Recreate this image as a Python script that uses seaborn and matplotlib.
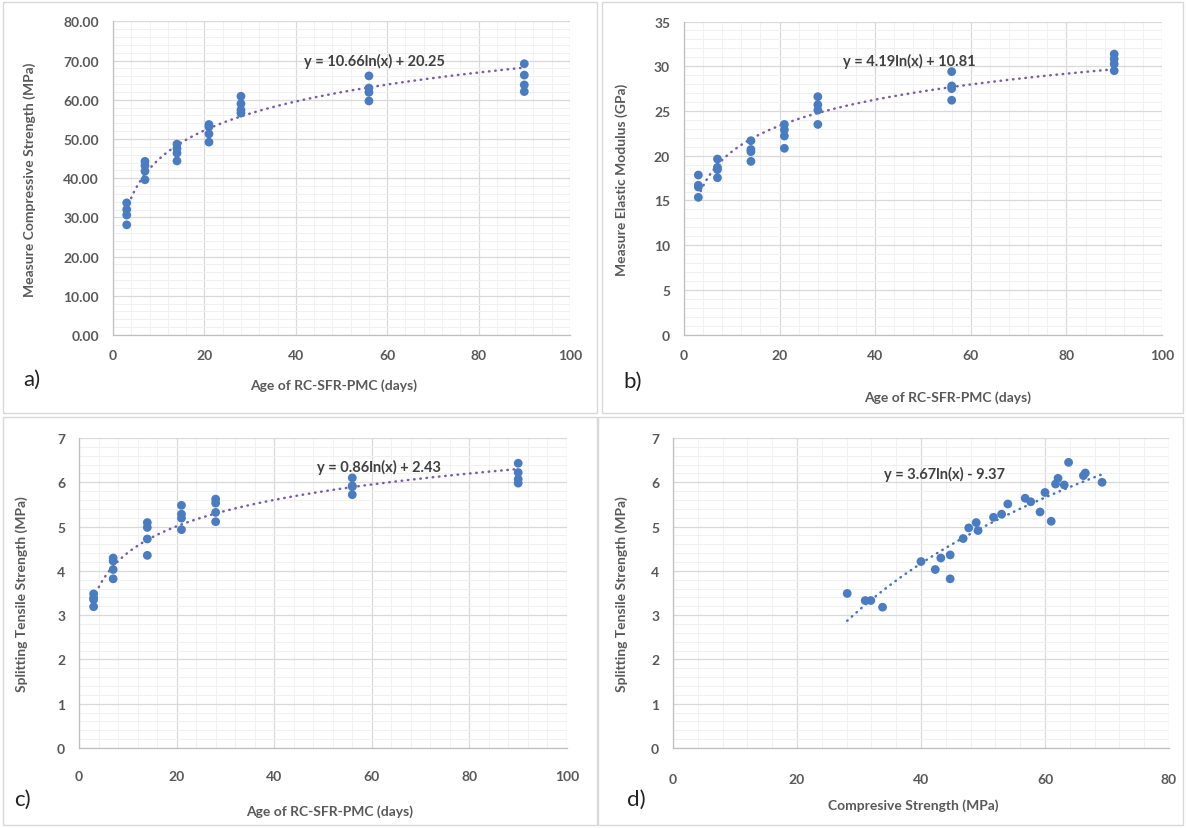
import numpy as np
import pandas as pd
import matplotlib
matplotlib.use("Agg")
import matplotlib.pyplot as plt
from matplotlib.patches import Rectangle
from matplotlib.ticker import MultipleLocator, FormatStrFormatter
import seaborn as sns

# ---- data -------------------------------------------------------------
ages = [3, 7, 14, 21, 28, 56, 90]          # curing age (days)
specimens_per_age = 4

compressive = [33.7, 32.0, 30.6, 28.1,
               44.3, 43.2, 41.8, 39.6,
               48.7, 47.6, 46.4, 44.4,
               53.7, 53.1, 51.3, 49.2,
               60.9, 59.0, 57.4, 56.6,
               66.1, 63.0, 61.9, 59.7,
               69.2, 66.3, 63.8, 62.1]

elastic = [17.84, 16.7, 16.5, 15.35,
           19.63, 18.7, 18.45, 17.54,
           21.68, 20.7, 20.45, 19.37,
           23.5, 22.9, 22.2, 20.83,
           26.6, 25.7, 25.1, 23.5,
           29.4, 27.8, 27.5, 26.2,
           31.36, 30.8, 30.25, 29.5]

tensile = [3.48, 3.39, 3.35, 3.19,
           4.29, 4.22, 4.03, 3.82,
           5.09, 4.98, 4.72, 4.35,
           5.48, 5.28, 5.19, 4.93,
           5.62, 5.53, 5.32, 5.11,
           6.10, 5.92, 5.90, 5.72,
           6.43, 6.22, 6.07, 5.98]

pair_compressive = [28.1, 31.0, 31.9, 33.8, 40.0, 42.3, 43.2, 44.7, 44.7, 46.8,
                    47.7, 48.9, 49.2, 51.7, 53.0, 54.0, 56.8, 57.7, 59.2, 60.0,
                    61.0, 61.7, 62.1, 63.1, 63.8, 66.2, 66.5, 69.2]
pair_tensile = [3.49, 3.33, 3.33, 3.18, 4.21, 4.03, 4.29, 4.36, 3.82, 4.73,
                4.97, 5.09, 4.91, 5.21, 5.28, 5.51, 5.64, 5.56, 5.33, 5.77,
                5.12, 5.96, 6.09, 5.94, 6.45, 6.15, 6.21, 6.00]

# logarithmic trend lines y = a*ln(x) + b
fit_comp = (10.66, 20.25)
fit_elastic = (4.19, 10.81)
fit_tensile = (0.86, 2.43)
fit_pair = (3.67, -9.37)

age_col = np.repeat(ages, specimens_per_age)
df_age = pd.DataFrame({"age": age_col, "comp": compressive,
                       "elastic": elastic, "tensile": tensile})
df_pair = pd.DataFrame({"comp": pair_compressive, "tensile": pair_tensile})

# ---- style ------------------------------------------------------------
sns.set_theme(style="white")
plt.rcParams["font.family"] = ["Lato", "DejaVu Sans"]

W, H = 1186, 829
fig = plt.figure(figsize=(W / 100, H / 100), dpi=100)
fig.patch.set_facecolor("white")

DOT = "#4A7CC2"
TREND_PURPLE = "#7A5CA6"
TREND_BLUE = "#4472C4"
TXT = "#595959"
EQ = "#404040"


def px_axes(l, t, r, b):
    return fig.add_axes([l / W, 1 - b / H, (r - l) / W, (b - t) / H])


def style(ax, xmax, xmaj, ymax, ymaj, yfmt=None):
    ax.set_xlim(0, xmax)
    ax.set_ylim(0, ymax)
    ax.xaxis.set_major_locator(MultipleLocator(xmaj))
    ax.xaxis.set_minor_locator(MultipleLocator(xmaj / 5))
    ax.yaxis.set_major_locator(MultipleLocator(ymaj))
    ax.yaxis.set_minor_locator(MultipleLocator(ymaj / 5))
    if yfmt:
        ax.yaxis.set_major_formatter(FormatStrFormatter(yfmt))
    ax.grid(True, which="major", color="#D9D9D9", lw=0.9, zorder=0)
    ax.grid(True, which="minor", color="#F0F0F0", lw=0.7, zorder=0)
    ax.set_axisbelow(True)
    for s in ("top", "right"):
        ax.spines[s].set_visible(False)
    for s in ("left", "bottom"):
        ax.spines[s].set_color("#BFBFBF")
        ax.spines[s].set_linewidth(0.9)
    ax.tick_params(which="major", direction="out", length=4, width=0.8,
                   color="#BFBFBF", labelsize=10, labelcolor=TXT, pad=6)
    ax.tick_params(which="minor", length=0)
    for lab in ax.get_xticklabels() + ax.get_yticklabels():
        lab.set_fontweight("bold")
    ax.set_facecolor("white")


def trend(ax, coef, x0, x1, color):
    xs = np.linspace(x0, x1, 200)
    ys = coef[0] * np.log(xs) + coef[1]
    sns.lineplot(x=xs, y=ys, ax=ax, color=color, lw=1.8,
                 linestyle=(0, (0.2, 2.3)), dash_capstyle="round", zorder=2)


def dots(ax, data, x, y):
    sns.scatterplot(data=data, x=x, y=y, ax=ax, color=DOT, s=40,
                    edgecolor="none", zorder=3, legend=False)


# chart frames
for (l, t, r, b) in [(3, 3, 597, 414), (602, 3, 1183, 414),
                     (3, 418, 597, 826), (598, 418, 1183, 826)]:
    fig.patches.append(Rectangle((l / W, 1 - b / H), (r - l) / W, (b - t) / H,
                                 transform=fig.transFigure, fill=False,
                                 edgecolor="#D9D9D9", lw=1.0))

# a) compressive strength vs age
ax_a = px_axes(113, 22.4, 570, 336)
style(ax_a, 100, 20, 80, 10, "%.2f")
trend(ax_a, fit_comp, 3, 90, TREND_PURPLE)
dots(ax_a, df_age, "age", "comp")
ax_a.set_xlabel("")
ax_a.set_ylabel("")
fig.text(374 / W, 1 - 61 / H, "y = 10.66ln(x) + 20.25", ha="center",
         va="center", fontsize=10.5, fontweight="bold", color=EQ)
fig.text(334 / W, 1 - 386 / H, "Age of RC-SFR-PMC (days)", ha="center",
         va="center", fontsize=10, fontweight="bold", color=TXT)
fig.text(30 / W, 1 - 180 / H, "Measure Compressive Strength (MPa)", rotation=90,
         ha="center", va="center", fontsize=10, fontweight="bold", color=TXT)
fig.text(32 / W, 1 - 380 / H, "a)", ha="center", va="center", fontsize=16,
         color="#222222")

# b) elastic modulus vs age
ax_b = px_axes(684, 22.5, 1162, 335.7)
style(ax_b, 100, 20, 35, 5)
trend(ax_b, fit_elastic, 3, 90, TREND_PURPLE)
dots(ax_b, df_age, "age", "elastic")
ax_b.set_xlabel("")
ax_b.set_ylabel("")
fig.text(909 / W, 1 - 61 / H, "y = 4.19ln(x) + 10.81", ha="center", va="center",
         fontsize=10.5, fontweight="bold", color=EQ)
fig.text(948 / W, 1 - 398 / H, "Age of RC-SFR-PMC (days)", ha="center",
         va="center", fontsize=10, fontweight="bold", color=TXT)
fig.text(622 / W, 1 - 180 / H, "Measure Elastic Modulus (GPa)", rotation=90,
         ha="center", va="center", fontsize=10, fontweight="bold", color=TXT)
fig.text(633 / W, 1 - 382 / H, "b)", ha="center", va="center", fontsize=16,
         color="#222222")

# c) splitting tensile strength vs age
ax_c = px_axes(79, 439, 567, 749)
style(ax_c, 100, 20, 7, 1)
trend(ax_c, fit_tensile, 3, 90, TREND_PURPLE)
dots(ax_c, df_age, "age", "tensile")
ax_c.set_xlabel("")
ax_c.set_ylabel("")
ax_c.tick_params(axis="x", pad=12)
fig.text(379 / W, 1 - 467 / H, "y = 0.86ln(x) + 2.43", ha="center", va="center",
         fontsize=10.5, fontweight="bold", color=EQ)
fig.text(330 / W, 1 - 812 / H, "Age of RC-SFR-PMC (days)", ha="center",
         va="center", fontsize=10, fontweight="bold", color=TXT)
fig.text(22 / W, 1 - 594 / H, "Splitting Tensile Strength (MPa)", rotation=90,
         ha="center", va="center", fontsize=10, fontweight="bold", color=TXT)
fig.text(22 / W, 1 - 800 / H, "c)", ha="center", va="center", fontsize=16,
         color="#222222")

# d) splitting tensile vs compressive strength
ax_d = px_axes(673, 439, 1169, 749)
style(ax_d, 80, 20, 7, 1)
trend(ax_d, fit_pair, min(pair_compressive), max(pair_compressive), TREND_BLUE)
dots(ax_d, df_pair, "comp", "tensile")
ax_d.set_xlabel("")
ax_d.set_ylabel("")
ax_d.tick_params(axis="x", pad=14)
fig.text(944 / W, 1 - 474 / H, "y = 3.67ln(x) - 9.37", ha="center", va="center",
         fontsize=10.5, fontweight="bold", color=EQ)
fig.text(913 / W, 1 - 806 / H, "Compresive Strength (MPa)", ha="center",
         va="center", fontsize=10, fontweight="bold", color=TXT)
fig.text(622 / W, 1 - 594 / H, "Splitting Tensile Strength (MPa)", rotation=90,
         ha="center", va="center", fontsize=10, fontweight="bold", color=TXT)
fig.text(636 / W, 1 - 800 / H, "d)", ha="center", va="center", fontsize=16,
         color="#222222")

fig.savefig("out.png", dpi=100, facecolor="white")
